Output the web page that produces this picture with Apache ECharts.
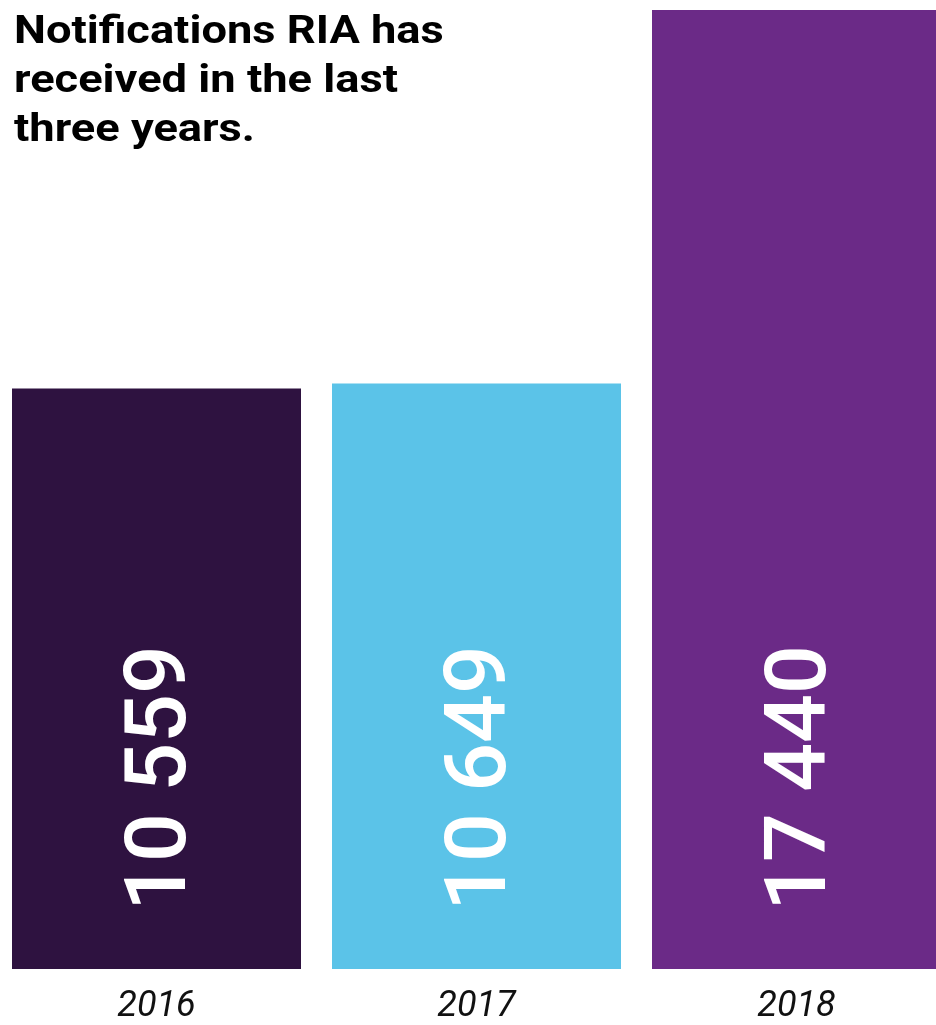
<!DOCTYPE html>
<html>
<head>
<meta charset="utf-8">
<script src="https://cdn.jsdelivr.net/npm/echarts@6/dist/echarts.min.js"></script>
<style>
  html, body { margin: 0; padding: 0; background: #fff; }
  #chart { width: 936px; height: 1025px; }
</style>
</head>
<body>
<div id="chart"></div>
<script>
const years = ['2016', '2017', '2018'];
const notifications = [10559, 10649, 17440];
const barColors = ['#2e1240', '#5bc3e8', '#6b2a87'];
const titleText = 'Notifications RIA has\nreceived in the last\nthree years.';

const chart = echarts.init(document.getElementById('chart'));

const option = {
  animation: false,
  // title drawn as graphic so it can be stretched a bit horizontally like the original
  graphic: [{
    type: 'text',
    x: 14,
    y: 9,
    scaleX: 1.16,
    style: {
      text: titleText,
      font: 'bold 39px Roboto',
      fill: '#000',
      lineHeight: 49
    }
  }],
  grid: {
    left: -3.5,
    right: -20.5,
    top: 10,
    bottom: 56,
    containLabel: false,
    outerBoundsMode: 'none'
  },
  xAxis: {
    type: 'category',
    data: years,
    axisLine: { show: false },
    axisTick: { show: false },
    axisLabel: {
      margin: 20,
      fontFamily: 'Roboto',
      fontStyle: 'italic',
      fontSize: 36,
      color: '#111'
    }
  },
  yAxis: {
    type: 'value',
    min: 0,
    max: 17440,
    show: false,
    splitLine: { show: false }
  },
  series: [{
    type: 'bar',
    barWidth: 289,
    data: notifications.map((v, i) => ({
      value: v,
      itemStyle: { color: barColors[i] }
    })),
    label: {
      show: true,
      position: 'insideBottom',
      rotate: 90,
      align: 'left',
      verticalAlign: 'middle',
      distance: 58,
      // offset is in the rotated text frame: y pushes the digits right on screen
      offset: [0, 7],
      fontFamily: 'Roboto',
      fontSize: 86,
      fontWeight: 500,
      color: '#fff',
      formatter: p => String(p.value).replace(/\B(?=(\d{3})+(?!\d))/g, ' ')
    }
  }]
};

chart.setOption(option);
</script>
</body>
</html>
